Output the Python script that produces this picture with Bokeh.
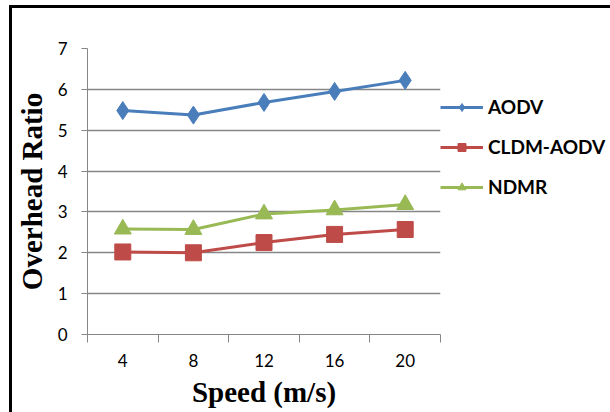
from bokeh.plotting import figure
from bokeh.models import (FactorRange, Range1d, LinearAxis, CategoricalAxis, FixedTicker,
                          Legend, LegendItem)
from bokeh.embed import file_html
from bokeh.resources import INLINE

# ---- data ----
speeds = ["4", "8", "12", "16", "20"]
aodv = [5.48, 5.37, 5.68, 5.95, 6.22]
cldm_aodv = [2.02, 2.00, 2.25, 2.45, 2.57]
ndmr = [2.58, 2.57, 2.95, 3.05, 3.18]
y_ticks = [0, 1, 2, 3, 4, 5, 6, 7]
series_names = ["AODV", "CLDM-AODV", "NDMR"]

GRID = "#868686"

p = figure(frame_width=353, frame_height=286,
           x_range=FactorRange(*speeds, range_padding=0),
           y_range=Range1d(0, 7),
           x_axis_location=None, y_axis_location=None,
           output_backend="svg", toolbar_location=None,
           min_border_left=74, min_border_right=174,
           min_border_top=40, min_border_bottom=80)
p.styles = {"margin-left": "9px", "margin-top": "5px", "overflow": "hidden",
            "border-left": "3px solid black", "border-top": "3px solid black",
            "border-bottom": "3px solid black", "border-right": "0px none white"}
p.outline_line_color = None
p.background_fill_color = "white"
p.border_fill_color = "white"

# y axis
yax = LinearAxis(ticker=FixedTicker(ticks=y_ticks))
yax.axis_line_color = GRID
yax.major_tick_line_color = GRID
yax.major_tick_out = 6
yax.major_tick_in = 0
yax.minor_tick_line_color = None
yax.major_label_standoff = 14
yax.major_label_text_font = "Lato"
yax.major_label_text_font_size = "17px"
yax.major_label_text_color = "black"
yax.axis_label = "Overhead Ratio"
yax.axis_label_text_font = "Liberation Serif"
yax.axis_label_text_font_style = "bold"
yax.axis_label_text_font_size = "29px"
yax.axis_label_text_color = "black"
yax.axis_label_standoff = 7
p.add_layout(yax, "left")

# x axis: ticks at category boundaries (synthetic coordinates 0..N)
tax = LinearAxis(ticker=FixedTicker(ticks=list(range(len(speeds) + 1))))
tax.axis_line_color = GRID
tax.major_tick_line_color = GRID
tax.major_tick_out = 8
tax.major_tick_in = 0
tax.minor_tick_line_color = None
tax.major_label_overrides = {i: "" for i in range(len(speeds) + 1)}
tax.major_label_text_font_size = "1px"
tax.major_label_standoff = 0
p.add_layout(tax, "below")

# x axis: category labels
cax = CategoricalAxis()
cax.axis_line_color = None
cax.major_tick_line_color = None
cax.major_tick_out = 0
cax.major_tick_in = 0
cax.major_label_standoff = 11
cax.major_label_text_font = "Lato"
cax.major_label_text_font_size = "17px"
cax.major_label_text_color = "black"
cax.axis_label = "Speed (m/s)"
cax.axis_label_text_font = "Liberation Serif"
cax.axis_label_text_font_style = "bold"
cax.axis_label_text_font_size = "29px"
cax.axis_label_text_color = "black"
cax.axis_label_standoff = 6
p.add_layout(cax, "below")

p.xgrid.visible = False
p.ygrid.ticker = FixedTicker(ticks=y_ticks[1:])
p.ygrid.grid_line_color = GRID
p.ygrid.grid_line_width = 1.3

colors = ["#4A7EBB", "#BE4B48", "#98B954"]
markers = ["diamond", "square", "triangle"]
sizes = [18, 16, 17]
items = []
for name, vals, c, m, s in zip(series_names, [aodv, cldm_aodv, ndmr], colors, markers, sizes):
    lr = p.line(speeds, vals, line_color=c, line_width=3)
    sr = p.scatter(speeds, vals, marker=m, size=s, fill_color=c, line_color=c)
    items.append(LegendItem(label=name, renderers=[lr, sr]))

leg = Legend(items=items, location="top_left")
leg.title = " "
leg.title_text_font_size = "1px"
leg.title_standoff = 46
leg.glyph_width = 43
leg.glyph_height = 20
leg.spacing = 17
leg.label_standoff = 5
leg.padding = 0
leg.margin = 0
leg.border_line_color = None
leg.background_fill_alpha = 0
leg.label_text_font = "Lato"
leg.label_text_font_style = "bold"
leg.label_text_font_size = "19px"
leg.label_text_color = "black"
leg.label_height = 20
p.add_layout(leg, "right")

open("out.html", "w").write(file_html(p, INLINE))
